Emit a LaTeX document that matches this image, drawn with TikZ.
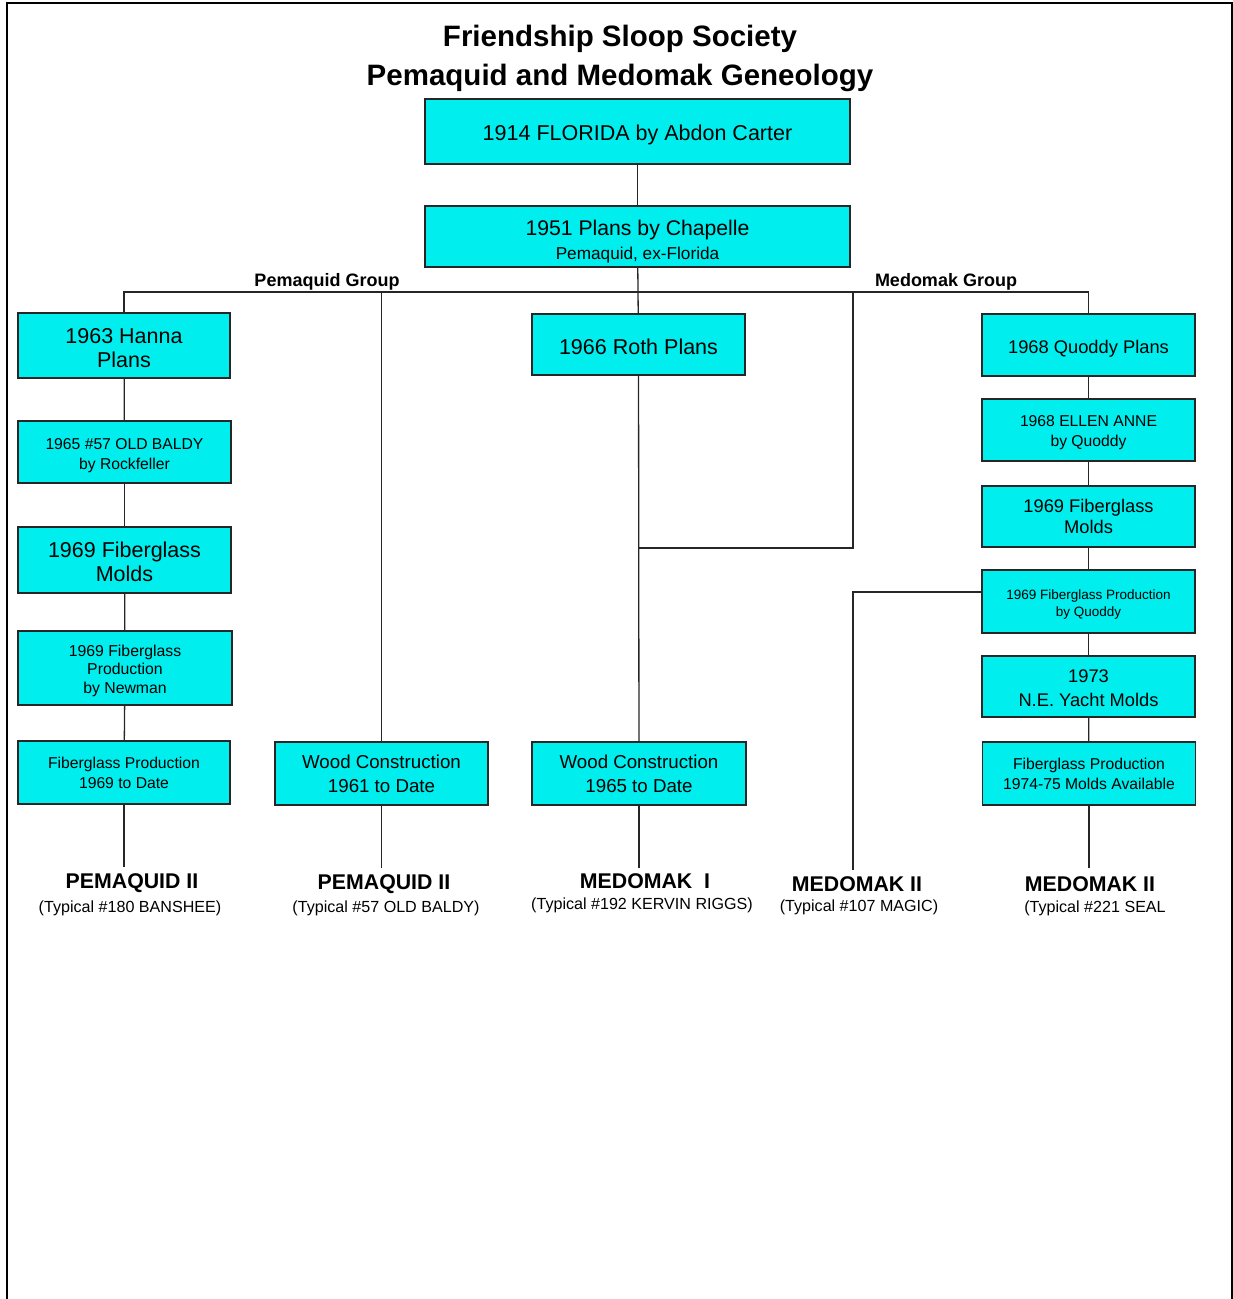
\documentclass[tikz,border=0pt]{standalone}
\usepackage{fontspec}
\setmainfont{Liberation Sans}
\usepackage{xcolor}
\definecolor{boxcyan}{RGB}{0,238,238}
\newcommand{\boxstrut}[1]{\rule{0pt}{#1}}

\begin{document}
\begin{tikzpicture}[x=1pt,y=-1pt,
  box/.style={draw=black!85,fill=boxcyan,line width=1.2pt,align=center,
    inner sep=0pt,minimum width=213,minimum height=62},
  link/.style={draw=black!85,line width=1.3pt},
  big/.style={font=\fontsize{21.5}{24}\selectfont},
  mid/.style={font=\fontsize{18.3}{20.5}\selectfont},
  small/.style={font=\fontsize{15.7}{20}\selectfont},
  tiny/.style={font=\fontsize{13.5}{17}\selectfont},
  title/.style={font=\bfseries\fontsize{29.5}{32}\selectfont},
  grp/.style={font=\bfseries\fontsize{18}{20}\selectfont,inner sep=0pt},
  boat/.style={font=\bfseries\fontsize{21.3}{24}\selectfont,inner sep=0pt},
  typical/.style={font=\fontsize{16.1}{18}\selectfont,inner sep=0pt}]

\useasboundingbox (0,0) rectangle (1233,1299);
\draw[line width=1.5pt] (7,1299) -- (7,3) -- (1232,3) -- (1232,1299);

% title
\node[title] (title1) at (620,39) {Friendship Sloop Society};
\node[title] (title2) at (620,78) {Pemaquid and Medomak Geneology};

% common stem
\node[box,big,minimum width=425,minimum height=65] (florida) at (637.5,131.5) {\boxstrut{21.7pt}1914 FLORIDA by Abdon Carter};
\node[box,font=\fontsize{17.2}{24}\selectfont,minimum width=425,minimum height=61] (chapelle) at (637.5,236.5)
  {\boxstrut{25.5pt}{\fontsize{21.2}{24}\selectfont 1951 Plans by Chapelle}\\Pemaquid, ex-Florida};

\node[grp] (pemgrp) at (327,282) {Pemaquid Group};
\node[grp] (medgrp) at (946,282) {Medomak Group};

% pemaquid side
\node[box,big,minimum width=212,minimum height=65] (hanna) at (124,345.5) {\boxstrut{19.7pt}1963 Hanna\\Plans};
\node[box,small] (oldbaldy) at (124.5,452) {\boxstrut{18.3pt}1965 \#57 OLD BALDY\\by Rockfeller};
\node[box,big,minimum height=66] (molds1) at (124.5,560) {\boxstrut{19.7pt}1969 Fiberglass\\Molds};
\node[box,font=\fontsize{15.8}{18.5}\selectfont,minimum width=214,minimum height=74] (newman) at (125,668) {\boxstrut{16.5pt}1969 Fiberglass\\Production\\by Newman};
\node[box,small,minimum width=212,minimum height=63] (fgprod1) at (124,772.5) {Fiberglass Production\\1969 to Date};
\node[box,font=\fontsize{18.7}{24}\selectfont,minimum height=63] (wood1) at (381.5,773.5) {Wood Construction\\1961 to Date};

% middle
\node[box,big,minimum height=61] (roth) at (638.5,344.5) {\boxstrut{19.7pt}1966 Roth Plans};
\node[box,font=\fontsize{18.7}{24}\selectfont,minimum width=214,minimum height=63] (wood2) at (639,773.5) {Wood Construction\\1965 to Date};

% medomak side
\node[box,mid] (quoddy) at (1088.5,345) {\boxstrut{21.4pt}1968 Quoddy Plans};
\node[box,small] (ellen) at (1088.5,430) {\boxstrut{17.2pt}1968 ELLEN ANNE\\by Quoddy};
\node[box,mid,minimum height=61] (molds2) at (1088.5,516.5) {1969 Fiberglass\\Molds};
\node[box,tiny,minimum height=63] (qprod) at (1088.5,601.5) {\boxstrut{15.9pt}1969 Fiberglass Production\\by Quoddy};
\node[box,font=\fontsize{18.3}{24}\selectfont,minimum height=61] (nemolds) at (1088.5,686.5) {\boxstrut{17.1pt}1973\\N.E. Yacht Molds};
\node[box,small,minimum height=63] (fgprod2) at (1089,773.5) {Fiberglass Production\\1974-75 Molds Available};

% boats
\node[boat] (boat1) at (132,883) {PEMAQUID II};
\node[typical] (typ1) at (130,908) {(Typical \#180 BANSHEE)};
\node[boat] (boat2) at (384,884) {PEMAQUID II};
\node[typical] (typ2) at (386,908) {(Typical \#57 OLD BALDY)};
\node[boat] (boat3) at (645,881) {MEDOMAK~ I};
\node[typical] (typ3) at (642,905) {(Typical \#192 KERVIN RIGGS)};
\node[boat] (boat4) at (857,884) {MEDOMAK II};
\node[typical] (typ4) at (859,907) {(Typical \#107 MAGIC)};
\node[boat] (boat5) at (1090,884) {MEDOMAK II};
\node[typical] (typ5) at (1095,908) {(Typical \#221 SEAL};

\coordinate (bus) at (638,292);
\coordinate (medtop) at (853,292);
\coordinate (rothjoin) at (638,548);
\coordinate (magicend) at (853,870);

% connectors
\draw[link] (florida) -- (chapelle);
\draw[link] (chapelle) -- (roth);
\draw[link] (hanna.north) |- (bus) -| (quoddy.north);
\draw[link] (hanna) -- (oldbaldy);
\draw[link] (oldbaldy) -- (molds1);
\draw[link] (molds1) -- (newman);
\draw[link] (newman) -- (fgprod1);
\draw[link] (fgprod1.south) -- ++(0,62);
\draw[link] (bus -| wood1.north) -- (wood1.north);
\draw[link] (wood1.south) -- ++(0,62);
\draw[link] (roth) -- (wood2);
\draw[link] (medtop) |- (rothjoin);
\draw[link] (wood2.south) -- ++(0,62);
\draw[link] (quoddy) -- (ellen);
\draw[link] (ellen) -- (molds2);
\draw[link] (molds2) -- (qprod);
\draw[link] (qprod) -- (nemolds);
\draw[link] (nemolds) -- (fgprod2);
\draw[link] (fgprod2.south) -- ++(0,62);
\draw[link] ([yshift=9.5pt]qprod.west) -| (magicend);
\end{tikzpicture}
\end{document}
